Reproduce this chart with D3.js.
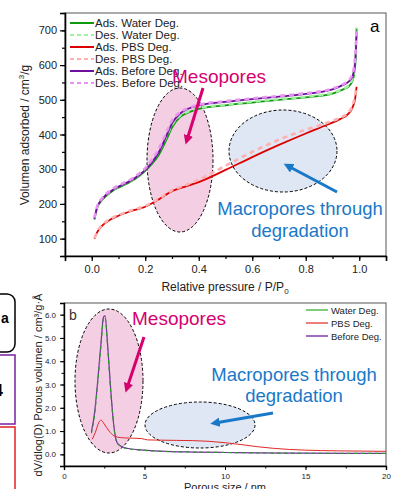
<!DOCTYPE html>
<html>
<head>
<meta charset="utf-8">
<script src="https://cdn.jsdelivr.net/npm/d3@7"></script>
<style>
  body { margin: 0; background: #fff; }
  svg { display: block; font-family: "Liberation Sans", Arial, sans-serif; }
</style>
</head>
<body>
<div id="chart"></div>
<script>
// ---- data: panel a (isotherms) ----
var pBefore = [0.01,0.02,0.04,0.07,0.1,0.14,0.18,0.2,0.22,0.25,0.28,0.3,0.33,0.36,0.4,0.5,0.6,0.7,0.8,0.9,0.94,0.96,0.975,0.985,0.99];
var adsBefore = [157,190,215,236,250,265,285,298,315,348,398,432,460,474,484,494,502,509,517,530,543,552,568,610,695];
var desBefore = [160,192,218,239,253,268,289,303,322,358,408,440,464,476,486,496,504,511,519,532,545,555,575,625,700];
var adsWater = [155,188,212,233,247,262,282,295,311,340,386,420,450,463,474,484,492,500,507,518,530,538,555,600,705];
var desWater = [158,190,215,236,250,265,286,300,318,350,396,428,455,466,476,486,494,502,509,520,532,541,562,615,708];
var pPBS = [0.01,0.02,0.04,0.07,0.1,0.15,0.2,0.25,0.3,0.35,0.4,0.5,0.6,0.7,0.8,0.88,0.93,0.96,0.975,0.985,0.99];
var adsPBS = [100,118,138,155,166,180,192,213,237,250,263,298,335,370,403,428,445,460,478,505,537];
var desPBS = [102,120,140,157,168,182,194,215,239,254,270,310,350,385,414,434,449,464,484,515,540];

var isoNames = ["Ads. Water Deg.","Des. Water Deg.","Ads. PBS Deg.","Des. PBS Deg.","Ads. Before Deg.","Des. Before Deg."];
var xTicksA = [0.0,0.2,0.4,0.6,0.8,1.0];
var yTicksA = [100,200,300,400,500,600,700];

// ---- data: panel b (pore size distribution) ----
var sizeBefore = [1.7,1.9,2.1,2.3,2.45,2.55,2.7,2.9,3.1,3.3,3.6,4,5,6,8,10,12,15,20];
var psdBefore = [0.95,1.8,3.2,4.8,5.9,5.95,4.8,2.8,1.2,0.5,0.33,0.25,0.18,0.14,0.1,0.08,0.06,0.05,0.04];
var psdWater = [0.9,1.7,3.1,4.7,5.8,5.9,4.7,2.7,1.15,0.48,0.32,0.24,0.17,0.13,0.1,0.08,0.06,0.05,0.04];
var sizePBS = [1.75,1.95,2.15,2.3,2.5,2.8,3.1,3.5,4,4.8,5.2,6,7,8,9,10,11,12,13,14,15,17,20];
var psdPBS = [0.65,0.95,1.35,1.47,1.3,1.0,0.8,0.72,0.7,0.68,0.62,0.61,0.6,0.59,0.56,0.5,0.42,0.33,0.26,0.21,0.18,0.15,0.13];
var psdNames = ["Water Deg.","PBS Deg.","Before Deg."];
var xTicksB = [0,5,10,15,20];
var yTicksB = [0,1,2,3,4,5,6];

var W = 396, H = 489;
var svg = d3.select("#chart").append("svg").attr("width", W).attr("height", H);

// left-edge fragments of neighbouring figure
svg.append("rect").attr("x", -60).attr("y", 294).attr("width", 75).attr("height", 58).attr("rx", 8)
  .attr("fill", "none").attr("stroke", "#000").attr("stroke-width", 1.5);
svg.append("text").attr("x", 1).attr("y", 323).attr("font-size", 14).attr("font-weight", "bold").text("a");
svg.append("rect").attr("x", -60).attr("y", 355).attr("width", 75).attr("height", 69)
  .attr("fill", "none").attr("stroke", "#7a1fa0").attr("stroke-width", 1.5);
svg.append("text").attr("x", -6).attr("y", 396).attr("font-size", 16).attr("font-weight", "bold").text("4");
svg.append("rect").attr("x", -60).attr("y", 427).attr("width", 75).attr("height", 80)
  .attr("fill", "none").attr("stroke", "#e02020").attr("stroke-width", 1.5);

function arrowHead(id, color) {
  svg.append("defs").append("marker")
    .attr("id", id).attr("viewBox", "0 0 10 10").attr("refX", 5).attr("refY", 5)
    .attr("markerWidth", 3.2).attr("markerHeight", 3.2).attr("orient", "auto")
    .append("path").attr("d", "M0,0L10,5L0,10z").attr("fill", color);
}
arrowHead("amag", "#d6006f");
arrowHead("ablu", "#1a78c8");

// ================= panel a =================
var xa = d3.scaleLinear().domain([-0.1, 1.1]).range([65, 386]);
var ya = d3.scaleLinear().domain([50, 750]).range([256, 13]);

var ga = svg.append("g");
ga.append("ellipse").attr("cx", 180).attr("cy", 160).attr("rx", 33).attr("ry", 72)
  .attr("fill", "#f4cfe3").attr("stroke", "#000").attr("stroke-width", 1).attr("stroke-dasharray", "3,2");
ga.append("ellipse").attr("cx", 283).attr("cy", 151).attr("rx", 54).attr("ry", 41)
  .attr("fill", "#dfe7f4").attr("stroke", "#000").attr("stroke-width", 1).attr("stroke-dasharray", "3,2");

var lineA = d3.line().x(d => xa(d[0])).y(d => ya(d[1])).curve(d3.curveMonotoneX);
var isoSeries = [
  {p: pPBS, v: adsPBS, c: "#dd0000", dash: null, w: 1.8},
  {p: pPBS, v: desPBS, c: "#ffb0b0", dash: "5,4", w: 2.6},
  {p: pBefore, v: adsWater, c: "#109a10", dash: null, w: 1.8},
  {p: pBefore, v: desWater, c: "#a0f0a0", dash: "5,4", w: 2.6},
  {p: pBefore, v: adsBefore, c: "#6e0f9e", dash: null, w: 1.8},
  {p: pBefore, v: desBefore, c: "#ea94f2", dash: "5,4", w: 2.6}
];
isoSeries.forEach(function(s) {
  ga.append("path").datum(s.p.map((p, i) => [p, s.v[i]]))
    .attr("d", lineA).attr("fill", "none").attr("stroke", s.c)
    .attr("stroke-width", s.w).attr("stroke-dasharray", s.dash);
});

// frame + axes
ga.append("rect").attr("x", 65).attr("y", 13).attr("width", 321).attr("height", 243)
  .attr("fill", "none").attr("stroke", "#555").attr("stroke-width", 1);
ga.append("g").attr("transform", "translate(0,256)")
  .call(d3.axisBottom(xa).tickValues(d3.range(-0.1, 1.1001, 0.1)).tickSize(3).tickFormat(""))
  .call(g => g.select(".domain").remove());
ga.append("g").attr("transform", "translate(0,256)")
  .call(d3.axisBottom(xa).tickValues(xTicksA).tickSize(5).tickPadding(4).tickFormat(d3.format(".1f")))
  .call(g => g.selectAll("text").attr("font-size", 11).attr("fill", "#222"));
ga.append("g").attr("transform", "translate(65,0)")
  .call(d3.axisLeft(ya).tickValues(d3.range(50, 751, 50)).tickSize(3).tickFormat(""))
  .call(g => g.select(".domain").remove());
ga.append("g").attr("transform", "translate(65,0)")
  .call(d3.axisLeft(ya).tickValues(yTicksA).tickSize(5).tickPadding(3))
  .call(g => g.selectAll("text").attr("font-size", 11).attr("fill", "#222"));
ga.selectAll(".domain").attr("stroke-width", 1.6);
ga.selectAll(".tick line").attr("stroke-width", 1.2);

// legend a
isoNames.forEach(function(n, i) {
  var s = [isoSeries[2], isoSeries[3], isoSeries[0], isoSeries[1], isoSeries[4], isoSeries[5]][i];
  var yy = 23 + i * 12;
  ga.append("line").attr("x1", 70).attr("x2", 94).attr("y1", yy).attr("y2", yy)
    .attr("stroke", s.c).attr("stroke-width", s.dash ? 2.2 : 2).attr("stroke-dasharray", s.dash ? "4,3" : null);
  ga.append("text").attr("x", 95).attr("y", yy + 4).attr("font-size", 11.5).attr("fill", "#222").text(n);
});
ga.append("text").attr("x", 370).attr("y", 32).attr("font-size", 17).text("a");

// annotations a
ga.append("text").attr("x", 219).attr("y", 83).attr("text-anchor", "middle")
  .attr("font-size", 19).attr("fill", "#d6006f").text("Mesopores");
ga.append("line").attr("x1", 203).attr("y1", 88).attr("x2", 187).attr("y2", 140)
  .attr("stroke", "#d6006f").attr("stroke-width", 3).attr("marker-end", "url(#amag)");
ga.append("text").attr("x", 300).attr("y", 215).attr("text-anchor", "middle")
  .attr("font-size", 18.5).attr("fill", "#1a78c8").text("Macropores through");
ga.append("text").attr("x", 300).attr("y", 237).attr("text-anchor", "middle")
  .attr("font-size", 18.5).attr("fill", "#1a78c8").text("degradation");
ga.append("line").attr("x1", 337).attr("y1", 192).attr("x2", 288).attr("y2", 166)
  .attr("stroke", "#1a78c8").attr("stroke-width", 3).attr("marker-end", "url(#ablu)");

// axis titles a
var xl = ga.append("text").attr("x", 225).attr("y", 291).attr("text-anchor", "middle")
  .attr("font-size", 12).attr("fill", "#222");
xl.append("tspan").text("Relative pressure / P/P");
xl.append("tspan").attr("font-size", 8).attr("dy", 3).text("0");
var yl = ga.append("text").attr("transform", "translate(29,135) rotate(-90)").attr("text-anchor", "middle")
  .attr("font-size", 12).attr("fill", "#222");
yl.append("tspan").text("Volumen adsorbed / cm");
yl.append("tspan").attr("font-size", 8).attr("dy", -5).text("3");
yl.append("tspan").attr("dy", 5).text("/g");

// ================= panel b =================
var xb = d3.scaleLinear().domain([0, 20]).range([64, 386]);
var yb = d3.scaleLinear().domain([-0.5, 6.5]).range([466, 303]);
var gb = svg.append("g");

gb.append("ellipse").attr("cx", 109).attr("cy", 381).attr("rx", 34).attr("ry", 72)
  .attr("fill", "#f4cfe3").attr("stroke", "#000").attr("stroke-width", 1).attr("stroke-dasharray", "3,2");
gb.append("ellipse").attr("cx", 200).attr("cy", 425).attr("rx", 55).attr("ry", 23)
  .attr("fill", "#dfe7f4").attr("stroke", "#000").attr("stroke-width", 1).attr("stroke-dasharray", "3,2");

var lineB = d3.line().x(d => xb(d[0])).y(d => yb(d[1])).curve(d3.curveMonotoneX);
gb.append("path").datum(sizePBS.map((s, i) => [s, psdPBS[i]]))
  .attr("d", lineB).attr("fill", "none").attr("stroke", "#e02828").attr("stroke-width", 1);
gb.append("path").datum(sizeBefore.map((s, i) => [s, psdBefore[i]]))
  .attr("d", lineB).attr("fill", "none").attr("stroke", "#7a2aa8").attr("stroke-width", 1.2);
gb.append("path").datum(sizeBefore.map((s, i) => [s, psdWater[i]]))
  .attr("d", lineB).attr("fill", "none").attr("stroke", "#2a9a2a").attr("stroke-width", 1.1)
  .attr("stroke-dasharray", "4,3");

gb.append("rect").attr("x", 64).attr("y", 303).attr("width", 322).attr("height", 163)
  .attr("fill", "none").attr("stroke", "#555").attr("stroke-width", 1);
gb.append("g").attr("transform", "translate(0,466)")
  .call(d3.axisBottom(xb).tickValues(d3.range(0, 20.01, 2.5)).tickSize(2.5).tickFormat(""))
  .call(g => g.select(".domain").remove());
gb.append("g").attr("transform", "translate(0,466)")
  .call(d3.axisBottom(xb).tickValues(xTicksB).tickSize(4).tickPadding(3))
  .call(g => g.selectAll("text").attr("font-size", 8).attr("fill", "#222"));
gb.append("g").attr("transform", "translate(64,0)")
  .call(d3.axisLeft(yb).tickValues(d3.range(-0.5, 6.51, 0.5)).tickSize(2.5).tickFormat(""))
  .call(g => g.select(".domain").remove());
gb.append("g").attr("transform", "translate(64,0)")
  .call(d3.axisLeft(yb).tickValues(yTicksB).tickSize(4).tickPadding(4))
  .call(g => g.selectAll("text").attr("font-size", 8).attr("fill", "#222"));
gb.selectAll(".domain").attr("stroke-width", 1.4);

// legend b
var psdColors = ["#2aaa2a", "#e02828", "#6a0a9a"];
psdNames.forEach(function(n, i) {
  var yy = 310 + i * 13;
  gb.append("line").attr("x1", 306).attr("x2", 328).attr("y1", yy).attr("y2", yy)
    .attr("stroke", psdColors[i]).attr("stroke-width", 1.2);
  gb.append("text").attr("x", 331).attr("y", yy + 3.5).attr("font-size", 9.5).attr("fill", "#222").text(n);
});
gb.append("text").attr("x", 69).attr("y", 320).attr("font-size", 14).attr("fill", "#333").text("b");

// annotations b
gb.append("text").attr("x", 179).attr("y", 325).attr("text-anchor", "middle")
  .attr("font-size", 19).attr("fill", "#d6006f").text("Mesopores");
gb.append("line").attr("x1", 144).attr("y1", 337).attr("x2", 127).attr("y2", 388)
  .attr("stroke", "#d6006f").attr("stroke-width", 3).attr("marker-end", "url(#amag)");
gb.append("text").attr("x", 294).attr("y", 381).attr("text-anchor", "middle")
  .attr("font-size", 18.5).attr("fill", "#1a78c8").text("Macropores through");
gb.append("text").attr("x", 294).attr("y", 402).attr("text-anchor", "middle")
  .attr("font-size", 18.5).attr("fill", "#1a78c8").text("degradation");
gb.append("line").attr("x1", 273).attr("y1", 413).attr("x2", 215).attr("y2", 423)
  .attr("stroke", "#1a78c8").attr("stroke-width", 3).attr("marker-end", "url(#ablu)");

gb.append("text").attr("x", 225).attr("y", 491).attr("text-anchor", "middle")
  .attr("font-size", 11).attr("fill", "#222").text("Porous size / nm");
gb.append("text").attr("transform", "translate(42,385) rotate(-90)").attr("text-anchor", "middle")
  .attr("font-size", 11).attr("fill", "#222").text("dV/dlog(D) Porous volumen / cm³/g·Å");
</script>
</body>
</html>
